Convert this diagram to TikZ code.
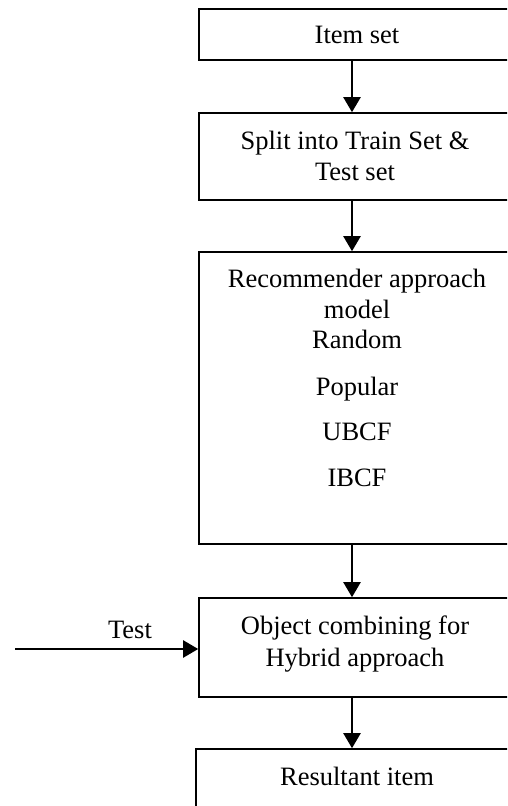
\documentclass[tikz,border=0pt]{standalone}
\usepackage{fontspec}
\setmainfont{Liberation Serif}
\usetikzlibrary{arrows.meta}
\tikzset{
  box/.style={draw, line width=1.6pt, minimum width=316pt, inner sep=0pt},
  txt/.style={anchor=base, inner sep=0pt, font=\fontsize{26.5}{31}\selectfont},
  arr/.style={line width=2.2pt, -{Triangle[length=15pt,width=17pt]}}
}
\begin{document}
\begin{tikzpicture}[x=1pt,y=-1pt]
\useasboundingbox (0,0) rectangle (507,806);
\clip (0,0) rectangle (507,806);
\node[box, minimum height=51pt] (b1) at (357,34.5) {};
\node[box, minimum height=87pt] (b2) at (357,156.5) {};
\node[box, minimum height=292pt] (b3) at (357,398) {};
\node[box, minimum height=99pt] (b4) at (357,647.5) {};
\node[box, minimum height=71pt, minimum width=322pt] (b5) at (357,784.5) {};
\node[txt] (t1) at (357,43) {Item set};
\node[txt] (t2a) at (355,149) {Split into Train Set \&};
\node[txt] (t2b) at (355,180) {Test set};
\node[txt] (t3a) at (357,287) {Recommender approach};
\node[txt] (t3b) at (357,318) {model};
\node[txt] (t3c) at (357,348) {Random};
\node[txt] (t3d) at (357,395) {Popular};
\node[txt] (t3e) at (357,440) {UBCF};
\node[txt] (t3f) at (357,486) {IBCF};
\node[txt] (t4a) at (355,634) {Object combining for};
\node[txt] (t4b) at (355,666) {Hybrid approach};
\node[txt] (t5) at (357,785) {Resultant item};
\node[txt] (tl) at (130,638) {Test};
\coordinate (ax) at (352,0);
\coordinate (tst) at (15,649);
\draw[arr] (b1.south -| ax) -- (b2.north -| ax);
\draw[arr] (b2.south -| ax) -- (b3.north -| ax);
\draw[arr] (b3.south -| ax) -- (b4.north -| ax);
\draw[arr] (b4.south -| ax) -- (b5.north -| ax);
\draw[arr] (tst) -- (tst -| b4.west);
\end{tikzpicture}
\end{document}
